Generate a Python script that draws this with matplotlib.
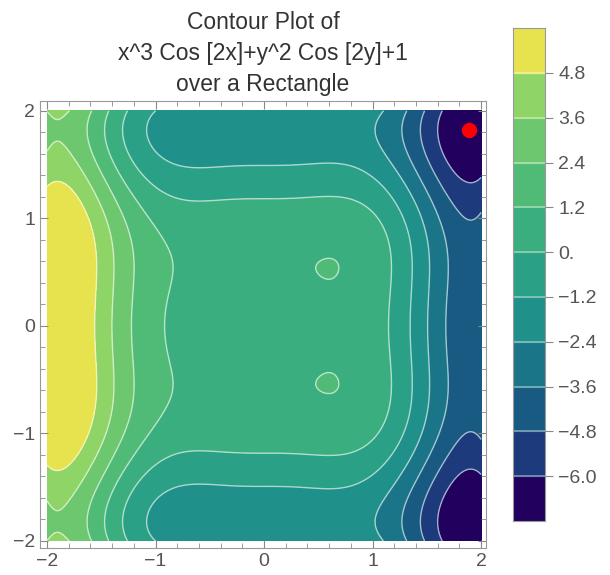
import matplotlib.pyplot as plt
import numpy as np
from matplotlib.colors import ListedColormap, BoundaryNorm

plt.rcParams['font.family'] = ['Liberation Sans', 'DejaVu Sans']

TITLE = "Contour Plot of\nx^3 Cos [2x]+y^2 Cos [2y]+1\nover a Rectangle"

x_range = [-2.0, 2.0]
y_range = [-2.0, 2.0]
levels = [-6.0, -4.8, -3.6, -2.4, -1.2, 0.0, 1.2, 2.4, 3.6, 4.8]
cbar_labels = ["\u22126.0", "\u22124.8", "\u22123.6", "\u22122.4", "\u22121.2",
               "0.", "1.2", "2.4", "3.6", "4.8"]
band_colors = ["#21005e", "#1c3a7c", "#185a82", "#1b7588", "#20908a",
               "#2aa086", "#3aae7e", "#50bb77", "#6cc76f", "#8fd467",
               "#e6e34f"]
marker_point = [1.89, 1.82]


def surface(x, y):
    return x ** 3 * np.cos(2 * x) + y ** 2 * np.cos(2 * y) + 1


xs = np.linspace(x_range[0], x_range[1], 400)
ys = np.linspace(y_range[0], y_range[1], 400)
X, Y = np.meshgrid(xs, ys)
Z = surface(X, Y)

bounds = [-8.0] + levels + [8.0]
cmap = ListedColormap(band_colors)
norm = BoundaryNorm(bounds, cmap.N)

fig = plt.figure(figsize=(6.1, 5.75), dpi=100)
ax = fig.add_axes([0.0656, 0.047, 0.731, 0.777])

ax.contourf(X, Y, Z, levels=bounds, cmap=cmap, norm=norm)
ax.contour(X, Y, Z, levels=levels, colors='white', linewidths=1.0,
           alpha=0.6, linestyles='solid')
ax.plot(marker_point[0], marker_point[1], 'o', color='red', markersize=10)

ax.set_xlim(-2.065, 2.045)
ax.set_ylim(-2.065, 2.09)
ax.set_xticks([-2, -1, 0, 1, 2])
ax.set_yticks([-2, -1, 0, 1, 2])
ax.set_xticklabels(["\u22122", "\u22121", "0", "1", "2"])
ax.set_yticklabels(["\u22122", "\u22121", "0", "1", "2"])
ax.set_xticks(np.arange(-2, 2.01, 0.2), minor=True)
ax.set_yticks(np.arange(-2, 2.01, 0.2), minor=True)
ax.tick_params(which='both', direction='in', top=True, right=True,
               color='#888888', labelcolor='#555555', labelsize=14)
ax.tick_params(which='major', length=6)
ax.tick_params(which='minor', length=3.5)
for s in ax.spines.values():
    s.set_color('#999999')

ax.set_title(TITLE, fontsize=16.5, color='#333333', linespacing=1.45, pad=7)

# colorbar drawn as equal-height bands
cax = fig.add_axes([0.841, 0.094, 0.0525, 0.857])
n = len(band_colors)
for i, c in enumerate(band_colors):
    cax.axhspan(i, i + 1, color=c)
for i in range(1, n):
    cax.axhline(i, color='white', alpha=0.45, linewidth=1.2)
cax.set_xlim(0, 1)
cax.set_ylim(0, n)
cax.set_xticks([])
cax.yaxis.tick_right()
cax.set_yticks(np.arange(1, n))
cax.set_yticklabels(cbar_labels)
cax.tick_params(axis='y', direction='out', length=6, color='#888888',
                labelcolor='#555555', labelsize=14)
for s in cax.spines.values():
    s.set_color('#999999')

fig.savefig('out.png', dpi=100)
